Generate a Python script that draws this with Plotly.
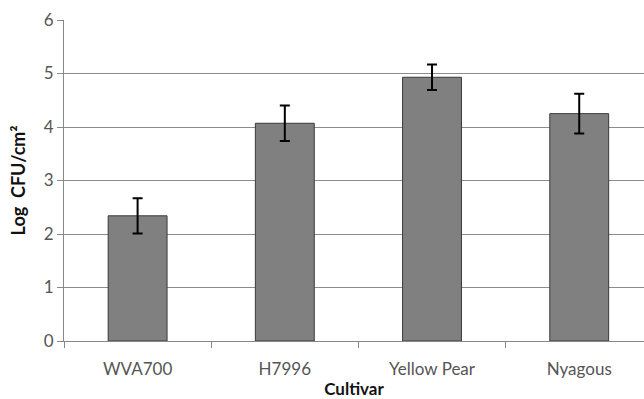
import plotly.graph_objects as go

cultivars = ["WVA700", "H7996", "Yellow Pear", "Nyagous"]
log_cfu = [2.34, 4.07, 4.93, 4.25]
err = [0.33, 0.33, 0.24, 0.37]
y_ticks = [0, 1, 2, 3, 4, 5, 6]

font_family = "Lato, 'Open Sans', sans-serif"

fig = go.Figure()
fig.add_trace(go.Bar(
    x=cultivars, y=log_cfu, width=0.4,
    marker=dict(color="#808080", line=dict(color="#3a3a3a", width=1)),
    error_y=dict(type="data", array=err, visible=True, color="#000000",
                 thickness=2, width=5),
))

fig.update_layout(
    width=644, height=399,
    margin=dict(l=64, r=0, t=20, b=58),
    paper_bgcolor="white", plot_bgcolor="white",
    showlegend=False,
    font=dict(family=font_family, size=17, color="#555555"),
    xaxis=dict(
        range=[-0.5, 3.44], showline=True, linecolor="#888888", linewidth=1,
        ticks="outside", tickson="boundaries", ticklen=6, tickcolor="#888888",
        ticklabelstandoff=13,
        showgrid=False, automargin=False,
        title=dict(text="<b>Cultivar</b>", font=dict(size=17, color="#111111"), standoff=10),
    ),
    yaxis=dict(
        range=[0, 6], tickvals=y_ticks, showline=True, linecolor="#888888", linewidth=1,
        ticks="outside", ticklen=6, tickcolor="#888888",
        showgrid=True, gridcolor="#8c8c8c", gridwidth=1, zeroline=False,
        automargin=False,
        title=dict(text="<b>Log&nbsp; CFU/cm²</b>", font=dict(size=18, color="#111111"), standoff=13),
    ),
)

fig.write_html("out.html")
